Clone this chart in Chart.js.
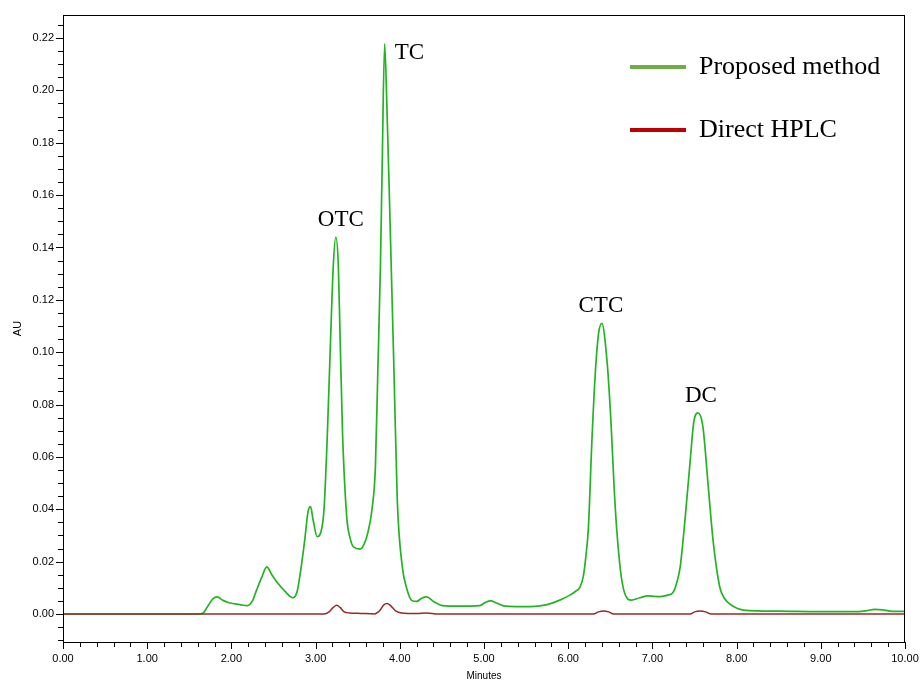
<!DOCTYPE html>
<html>
<head>
<meta charset="utf-8">
<title>Chromatogram</title>
<script src="https://cdn.jsdelivr.net/npm/chart.js@4/dist/chart.umd.min.js"></script>
<style>
  html, body { margin: 0; padding: 0; background: #ffffff; }
  canvas { display: block; }
</style>
</head>
<body>
<canvas id="c" width="920" height="682"></canvas>
<script>
// Retention time (min) and absorbance (AU) for the proposed method trace
const proposedTime = [
  0.00, 1.60, 1.66, 1.72, 1.78, 1.83, 1.90, 1.98, 2.10, 2.19,
  2.25, 2.30, 2.36, 2.42, 2.48, 2.55, 2.64, 2.73, 2.78, 2.82,
  2.87, 2.91, 2.94, 2.97, 3.02, 3.06, 3.10, 3.14, 3.18, 3.21,
  3.24, 3.27, 3.29, 3.32, 3.37, 3.41, 3.45, 3.53, 3.58, 3.62,
  3.67, 3.71, 3.74, 3.77, 3.79, 3.82, 3.85, 3.88, 3.93, 3.97,
  4.03, 4.08, 4.14, 4.20, 4.26, 4.32, 4.40, 4.51, 4.70, 4.95,
  5.02, 5.08, 5.15, 5.25, 5.55, 5.75, 5.90, 6.02, 6.08, 6.14,
  6.18, 6.21, 6.24, 6.28, 6.32, 6.36, 6.40, 6.46, 6.50, 6.56,
  6.62, 6.67, 6.75, 6.85, 6.95, 7.09, 7.18, 7.24, 7.29, 7.33,
  7.39, 7.45, 7.49, 7.54, 7.60, 7.66, 7.72, 7.80, 7.86, 7.92,
  8.08, 8.50, 9.00, 9.45, 9.55, 9.64, 9.75, 9.85, 10.00
];
const proposedAU = [
  0.0000, 0.0000, 0.0003, 0.0030, 0.0058, 0.0065, 0.0052, 0.0042, 0.0036, 0.0032,
  0.0050, 0.0092, 0.0140, 0.0180, 0.0150, 0.0118, 0.0085, 0.0062, 0.0085, 0.0160,
  0.0280, 0.0390, 0.0410, 0.0360, 0.0295, 0.0310, 0.0400, 0.0690, 0.1070, 0.1330,
  0.1440, 0.1330, 0.1070, 0.0690, 0.0370, 0.0290, 0.0256, 0.0248, 0.0270, 0.0310,
  0.0400, 0.0560, 0.0940, 0.1330, 0.1700, 0.2178, 0.1900, 0.1550, 0.0940, 0.0435,
  0.0180, 0.0100, 0.0052, 0.0048, 0.0060, 0.0065, 0.0048, 0.0032, 0.0030, 0.0032,
  0.0045, 0.0050, 0.0042, 0.0030, 0.0028, 0.0036, 0.0053, 0.0072, 0.0085, 0.0103,
  0.0145, 0.0220, 0.0330, 0.0650, 0.0910, 0.1070, 0.1110, 0.0970, 0.0780, 0.0400,
  0.0168, 0.0080, 0.0053, 0.0062, 0.0069, 0.0066, 0.0072, 0.0080, 0.0120, 0.0180,
  0.0370, 0.0590, 0.0730, 0.0768, 0.0715, 0.0500, 0.0283, 0.0103, 0.0058, 0.0038,
  0.0015, 0.0011, 0.0009, 0.0009, 0.0013, 0.0018, 0.0015, 0.0010, 0.0010
];

// Retention time (min) and absorbance (AU) for the direct HPLC trace
const directTime = [
  0.00, 3.10, 3.16, 3.21, 3.25, 3.29, 3.34, 3.40, 3.50, 3.70,
  3.76, 3.81, 3.85, 3.89, 3.95, 4.02, 4.20, 4.32, 4.45, 6.30,
  6.36, 6.42, 6.48, 6.54, 7.45, 7.50, 7.57, 7.63, 7.70, 10.00
];
const directAU = [
  0.0000, 0.0000, 0.0008, 0.0025, 0.0033, 0.0025, 0.0008, 0.0004, 0.0003, 0.0000,
  0.0012, 0.0035, 0.0040, 0.0032, 0.0012, 0.0004, 0.0002, 0.0004, 0.0000, 0.0000,
  0.0008, 0.0011, 0.0008, 0.0000, 0.0000, 0.0008, 0.0011, 0.0008, 0.0000, 0.0000
];

// Peak names and the retention times they sit over
const peakNames = ['OTC', 'TC', 'CTC', 'DC'];
const peakTimes = [3.24, 3.82, 6.40, 7.54];

// Axis ticks: labelled majors
const xMajorTicks = [0, 1, 2, 3, 4, 5, 6, 7, 8, 9, 10];
const yMajorTicks = [0, 0.02, 0.04, 0.06, 0.08, 0.10, 0.12, 0.14, 0.16, 0.18, 0.20, 0.22];

const seriesNames = ['Proposed method', 'Direct HPLC'];

const X_MINOR = 0.2, Y_MINOR = 0.005;
const SANS = '"Liberation Sans", Arial, Helvetica, sans-serif';
const SERIF = '"Liberation Serif", "Times New Roman", serif';

const toPoints = (xs, ys) => xs.map((t, i) => ({ x: t, y: ys[i] }));
const near = (v, list) => list.some(m => Math.abs(m - v) < 1e-9);

function minorTicks(min, max, step) {
  const out = [];
  const n0 = Math.ceil(min / step - 1e-9), n1 = Math.floor(max / step + 1e-9);
  for (let n = n0; n <= n1; n++) out.push({ value: +(n * step).toFixed(6) });
  return out;
}

// Box frame, tick marks, legend and peak names
const decorations = {
  id: 'decorations',
  beforeDraw(chart) {
    const { ctx } = chart;
    ctx.save();
    ctx.fillStyle = '#ffffff';
    ctx.fillRect(0, 0, chart.width, chart.height);
    ctx.restore();
  },
  afterDraw(chart) {
    const { ctx, chartArea: a, scales: { x, y } } = chart;
    ctx.save();
    ctx.strokeStyle = '#000000';
    ctx.lineWidth = 1;
    ctx.beginPath();
    y.ticks.forEach(t => {
      const py = Math.round(y.getPixelForValue(t.value)) + 0.5;
      const len = near(t.value, yMajorTicks) ? 7 : 5;
      ctx.moveTo(a.left - len, py);
      ctx.lineTo(a.left, py);
    });
    x.ticks.forEach(t => {
      const px = Math.round(x.getPixelForValue(t.value)) + 0.5;
      const len = near(t.value, xMajorTicks) ? 7 : 5;
      ctx.moveTo(px, a.bottom);
      ctx.lineTo(px, a.bottom + len);
    });
    ctx.stroke();
    ctx.strokeRect(Math.round(a.left) + 0.5, Math.round(a.top) + 0.5,
                   Math.round(a.right - a.left) - 1, Math.round(a.bottom - a.top));

    // legend
    const legendColors = ['#70ad47', '#c00000'];
    ctx.font = '26px ' + SERIF;
    ctx.fillStyle = '#000000';
    ctx.textAlign = 'left';
    ctx.textBaseline = 'alphabetic';
    seriesNames.forEach((name, i) => {
      const ly = 67 + i * 63;
      ctx.strokeStyle = legendColors[i];
      ctx.lineWidth = 4;
      ctx.beginPath();
      ctx.moveTo(630, ly);
      ctx.lineTo(686, ly);
      ctx.stroke();
      ctx.fillText(name, 699, ly + 7);
    });

    // peak names
    ctx.font = '23px ' + SERIF;
    ctx.fillStyle = '#000000';
    peakNames.forEach((name, i) => {
      const idx = proposedTime.indexOf(peakTimes[i]);
      const px = x.getPixelForValue(peakTimes[i]);
      const py = y.getPixelForValue(proposedAU[idx]);
      if (name === 'TC') {
        ctx.textAlign = 'left';
        ctx.fillText(name, px + 10, py + 15);
      } else {
        ctx.textAlign = 'center';
        const dx = name === 'OTC' ? 5 : (name === 'DC' ? 3 : -1);
        ctx.fillText(name, px + dx, py - 11);
      }
    });
    ctx.restore();
  }
};

new Chart(document.getElementById('c'), {
  type: 'line',
  data: {
    datasets: [
      {
        label: seriesNames[1],
        data: toPoints(directTime, directAU),
        borderColor: '#962a2a',
        borderWidth: 1.5,
        pointRadius: 0,
        fill: false,
        cubicInterpolationMode: 'monotone'
      },
      {
        label: seriesNames[0],
        data: toPoints(proposedTime, proposedAU),
        borderColor: '#22b422',
        borderWidth: 1.7,
        pointRadius: 0,
        fill: false,
        cubicInterpolationMode: 'monotone'
      }
    ]
  },
  options: {
    responsive: false,
    devicePixelRatio: 1,
    animation: false,
    layout: { padding: { top: 15, right: 15, left: 0, bottom: 0 } },
    plugins: { legend: { display: false }, tooltip: { enabled: false } },
    scales: {
      x: {
        type: 'linear',
        min: 0,
        max: 10,
        afterBuildTicks: s => { s.ticks = minorTicks(0, 10, X_MINOR); },
        afterFit: s => { s.height = 40; s.paddingRight = 0; s.paddingLeft = 0; },
        grid: { display: false, drawTicks: false },
        border: { display: false },
        ticks: {
          autoSkip: false,
          maxRotation: 0,
          padding: 10,
          color: '#000000',
          font: { family: SANS, size: 11 },
          callback: v => near(v, xMajorTicks) ? v.toFixed(2) : ''
        },
        title: {
          display: true,
          text: 'Minutes',
          color: '#000000',
          font: { family: SANS, size: 10 },
          padding: { top: 0, bottom: 0 }
        }
      },
      y: {
        type: 'linear',
        min: -0.0107,
        max: 0.2288,
        afterBuildTicks: s => { s.ticks = minorTicks(-0.0107, 0.2288, Y_MINOR); },
        afterFit: s => { s.width = 63; s.paddingTop = 0; s.paddingBottom = 0; },
        grid: { display: false, drawTicks: false },
        border: { display: false },
        ticks: {
          autoSkip: false,
          padding: 9,
          color: '#000000',
          font: { family: SANS, size: 11 },
          callback: v => near(v, yMajorTicks) ? v.toFixed(2) : ''
        },
        title: {
          display: true,
          text: 'AU',
          color: '#000000',
          font: { family: SANS, size: 11 },
          padding: { top: 11, bottom: 0 }
        }
      }
    }
  },
  plugins: [decorations]
});
</script>
</body>
</html>
